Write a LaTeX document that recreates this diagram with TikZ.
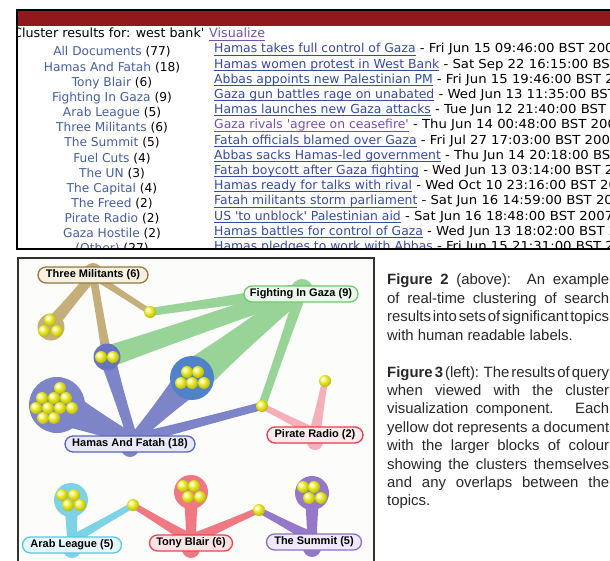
\documentclass[tikz,border=0pt]{standalone}
\usepackage{fontspec}
\usetikzlibrary{calc}
\newfontfamily\verd{DejaVu Sans}
\newfontfamily\arialf{Liberation Sans}
\newcommand\tfont{\verd\fontsize{12.2pt}{14pt}\selectfont}
\newcommand\hfont{\verd\fontsize{12.4pt}{14pt}\selectfont}
\newcommand\ttlfont{\verd\fontsize{12.7pt}{14pt}\selectfont}
\newcommand\lfont{\arialf\bfseries\fontsize{11pt}{13pt}\selectfont}
\newcommand\cfont{\arialf\fontsize{14.9pt}{18pt}\selectfont}
\newcommand\ulk[1]{\setbox0\hbox{#1}\rlap{\rule[-2.3pt]{\wd0}{0.75pt}}\box0}
\newcommand\jline[1]{\makebox[222pt][s]{\spaceskip=1pt plus 1fil\relax #1}}
\definecolor{barred}{RGB}{145,25,30}
\definecolor{listblue}{RGB}{70,95,160}
\definecolor{hlblue}{RGB}{55,75,160}
\definecolor{hlpurple}{RGB}{120,80,170}
\definecolor{panelbg}{RGB}{252,252,250}
\definecolor{framegray}{RGB}{50,50,50}
\definecolor{captext}{RGB}{40,40,40}
\definecolor{ylw}{RGB}{228,228,35}
\definecolor{ylwhi}{RGB}{250,250,170}
\definecolor{ylwmid}{RGB}{190,190,20}
\definecolor{ylwdk}{RGB}{105,105,10}
\pgfdeclareradialshading{ydots}{\pgfpoint{-11bp}{11bp}}{color(0bp)=(white); color(7bp)=(ylwhi); color(16bp)=(ylw); color(27bp)=(ylwmid); color(40bp)=(ylwdk); color(50bp)=(ylwdk)}
\definecolor{fgc}{RGB}{152,212,152}
\definecolor{tmc}{RGB}{196,174,122}
\definecolor{hfc}{RGB}{125,133,200}
\definecolor{hfc2}{RGB}{105,115,195}
\definecolor{fgmix}{RGB}{80,130,200}
\definecolor{prc}{RGB}{245,175,185}
\definecolor{alc}{RGB}{125,210,230}
\definecolor{tbc}{RGB}{240,120,130}
\definecolor{tsc}{RGB}{150,120,200}
\definecolor{tmb}{RGB}{150,120,60}\definecolor{tmf}{RGB}{245,240,225}
\definecolor{fgb}{RGB}{110,200,110}\definecolor{fgf}{RGB}{235,248,235}
\definecolor{hfb}{RGB}{90,100,190}\definecolor{hff}{RGB}{232,232,248}
\definecolor{prb}{RGB}{230,60,70}\definecolor{prf}{RGB}{253,235,238}
\definecolor{alb}{RGB}{90,200,225}\definecolor{alf}{RGB}{230,247,252}
\definecolor{tbb}{RGB}{230,70,80}\definecolor{tbf}{RGB}{252,228,230}
\definecolor{tsb}{RGB}{140,110,190}\definecolor{tsf}{RGB}{238,232,248}
\newcommand\stem[5]{%
  \pgfmathsetmacro\stemc{0.85*(0.7*#4+0.3*#5)}%
  \pgfmathsetmacro\stemd{0.85*(0.3*#4+0.7*#5)}%
  \coordinate (sA) at (#2);
  \coordinate (sB) at (#3);
  \coordinate (sM) at ($(sA)!0.3!(sB)$);
  \coordinate (sN) at ($(sA)!0.7!(sB)$);
  \fill[#1] ($(sA)!#4pt!90:(sB)$) .. controls ($(sM)!\stemc pt!90:(sB)$) and ($(sN)!\stemd pt!90:(sB)$) .. ($(sB)!#5pt!-90:(sA)$)
    -- ($(sB)!#5pt!90:(sA)$) .. controls ($(sN)!\stemd pt!-90:(sB)$) and ($(sM)!\stemc pt!-90:(sB)$) .. ($(sA)!#4pt!-90:(sB)$) -- cycle;
}
\begin{document}
\begin{tikzpicture}[x=1pt,y=-1pt,
  lab/.style n args={2}{rounded corners=8pt, line width=1.3pt, minimum height=16pt,
    inner ysep=0pt, inner xsep=6pt, font=\lfont, text=black, draw=#1, fill=#2},
  ydot/.style={circle, inner sep=0pt, minimum size=12pt, shading=ydots},
  captxt/.style={anchor=base west, inner sep=0pt, font=\cfont, text=captext},
  lst/.style={anchor=base, inner sep=0pt, font=\tfont},
  hdl/.style={anchor=base west, inner sep=0pt, font=\hfont}]
\useasboundingbox (0,0) rectangle (610,561);
\fill[white] (0,0) rectangle (610,561);
% ---------- top panel ----------
\fill[white] (17,10) rectangle (615,249);
\fill[barred] (17,10) rectangle (615,26);
\begin{scope}
\clip (18,26) rectangle (615,248.5);
\node[anchor=base west, inner sep=0pt, font=\ttlfont] (title) at (13,38) {Cluster results for: west bank'};
\node[anchor=base west, inner sep=0pt, font=\ttlfont, text=hlpurple] (vis) at (209,38) {\ulk{Visualize}};
\foreach \nm/\ct [count=\i] in {All Documents/77, Hamas And Fatah/18, Tony Blair/6,
  Fighting In Gaza/9, Arab League/5, Three Militants/6, The Summit/5, Fuel Cuts/4,
  The UN/3, The Capital/4, The Freed/2, Pirate Radio/2, Gaza Hostile/2, {(Other)}/27}
  \node[lst] (l\i) at (112,{56+15.15*(\i-1)}) {\textcolor{listblue}{\nm} (\ct)};
\foreach \hl/\dt/\hc [count=\i] in {
  Hamas takes full control of Gaza/Fri Jun 15 09:46:00 BST 2007/hlblue,
  Hamas women protest in West Bank/Sat Sep 22 16:15:00 BST 2007/hlblue,
  Abbas appoints new Palestinian PM/Fri Jun 15 19:46:00 BST 2007/hlblue,
  Gaza gun battles rage on unabated/Wed Jun 13 11:35:00 BST 2007/hlblue,
  Hamas launches new Gaza attacks/Tue Jun 12 21:40:00 BST 2007/hlblue,
  Gaza rivals 'agree on ceasefire'/Thu Jun 14 00:48:00 BST 2007/hlpurple,
  Fatah officials blamed over Gaza/Fri Jul 27 17:03:00 BST 2007/hlblue,
  Abbas sacks Hamas-led government/Thu Jun 14 20:18:00 BST 2007/hlblue,
  Fatah boycott after Gaza fighting/Wed Jun 13 03:14:00 BST 2007/hlblue,
  Hamas ready for talks with rival/Wed Oct 10 23:16:00 BST 2007/hlblue,
  Fatah militants storm parliament/Sat Jun 16 14:59:00 BST 2007/hlblue,
  US 'to unblock' Palestinian aid/Sat Jun 16 18:48:00 BST 2007/hlblue,
  Hamas battles for control of Gaza/Wed Jun 13 18:02:00 BST 2007/hlblue,
  Hamas pledges to work with Abbas/Fri Jun 15 21:31:00 BST 2007/hlblue}
  \node[hdl] (h\i) at (214,{53+15.2*(\i-1)}) {\textcolor{\hc}{\ulk{\hl}}\scalebox{1.07}[1]{ - \dt}};
\end{scope}
\draw[line width=1.8pt, black] (615,10) -- (17,10) -- (17,249) -- (615,249);
% ---------- bottom panel ----------
\fill[panelbg] (18,258) rectangle (374,570);
\draw[line width=2pt, framegray] (18,570) -- (18,258) -- (374,258) -- (374,570);
% key points
\coordinate (tmr) at (93,275);
\coordinate (fgr) at (302,290);
\coordinate (hfr) at (133,440);
\coordinate (prr) at (315,433);
\coordinate (alr) at (72,540);
\coordinate (tbr) at (191,540);
\coordinate (tsr) at (312,538);
\coordinate (gTM) at (50,326);
\coordinate (dA) at (150,312);
\coordinate (gTwo) at (107,357);
\coordinate (gFive) at (192,378);
\coordinate (gBig) at (57,405);
\coordinate (dB) at (262,406);
\coordinate (dC) at (325,381);
\coordinate (gAL) at (71,500);
\coordinate (dD) at (133,505);
\coordinate (gTB) at (191,492);
\coordinate (dE) at (259,510);
\coordinate (gTS) at (312,493);
% green
\fill[fgc] (fgr) circle (11);
\stem{fgc}{fgr}{dA}{7}{4}
\stem{fgc}{fgr}{gTwo}{8}{11}
\stem{fgc}{fgr}{gFive}{8}{18}
\stem{fgc}{fgr}{dB}{6}{4}
% tan
\fill[tmc] (93,272) circle (9);
\stem{tmc}{tmr}{gTM}{5}{7}
\stem{tmc}{tmr}{dA}{4}{3}
\stem{tmc}{tmr}{gTwo}{4}{5}
\fill[tmc] (51,327) circle (13.5);
% blue
\fill[hfc] (gBig) circle (28);
\stem{hfc}{hfr}{gBig}{6}{20}
\stem{hfc}{hfr}{gTwo}{5}{8}
\stem{hfc}{hfr}{gFive}{5}{16}
\stem{hfc}{hfr}{dB}{6}{4}
\fill[hfc] (130,448) circle (9);
\fill[hfc2] (gTwo) circle (13.5);
\fill[fgmix] (gFive) circle (22);
% pink
\stem{prc}{prr}{dB}{5}{3}
\stem{prc}{prr}{dC}{6}{3}
\fill[prc] (315,442) circle (8);
% cyan
\fill[alc] (gAL) circle (17);
\stem{alc}{alr}{gAL}{5}{8}
\stem{alc}{alr}{dD}{5}{3}
\fill[alc] (72,549) circle (9);
% red
\fill[tbc] (gTB) circle (17);
\stem{tbc}{tbr}{dD}{6}{3}
\stem{tbc}{tbr}{gTB}{5}{8}
\stem{tbc}{tbr}{dE}{6}{3}
\fill[tbc] (191,549) circle (9);
% purple
\fill[tsc] (gTS) circle (17);
\stem{tsc}{tsr}{dE}{6}{3}
\stem{tsc}{tsr}{gTS}{5}{8}
\fill[tsc] (312,548) circle (9);
% labels
\node[lab={tmb}{tmf}, minimum width=110pt] (tm) at (93,275) {Three Militants (6)};
\node[lab={fgb}{fgf}, minimum width=114pt] (fg) at (301,294) {Fighting In Gaza (9)};
\node[lab={hfb}{hff}, minimum width=130pt] (hf) at (130,444) {Hamas And Fatah (18)};
\node[lab={prb}{prf}, minimum width=96pt] (pr) at (315,435) {Pirate Radio (2)};
\node[lab={alb}{alf}, minimum width=99pt] (al) at (72,545) {Arab League (5)};
\node[lab={tbb}{tbf}, minimum width=83pt] (tb) at (191,543) {Tony Blair (6)};
\node[lab={tsb}{tsf}, minimum width=95pt] (ts) at (314,542) {The Summit (5)};
% documents
\foreach \p [count=\i] in {(50,320),(44,331),(57,331),(150,312),(101,357),(113,357),
  (187,372),(198,372),(181,383),(192,383),(204,383),
  (60,388),(42,398),(54,398),(66,398),(36,408),(48,408),(60,408),(72,408),(43,418),(54,418),
  (262,406),(325,381),(62,495),(74,495),(68,505),(80,505),(133,505),
  (183,486),(194,486),(188,497),(200,497),(259,510),
  (303,487),(314,487),(309,498),(321,498)}
  \node[ydot] (y\i) at \p {};
% ---------- caption ----------
\node[captxt] (c1) at (387,284.5) {\jline{\textbf{Figure 2} (above): An example}};
\node[captxt] (c2) at (387,303) {\jline{of real-time clustering of search}};
\node[captxt] (c3) at (387,321.5) {\jline{results into sets of significant topics}};
\node[captxt] (c4) at (387,340) {with human readable labels.};
\node[captxt] (c5) at (387,377) {\jline{\textbf{Figure 3} (left): The results of query}};
\node[captxt] (c6) at (387,395.4) {\jline{when viewed with the cluster}};
\node[captxt] (c7) at (387,413.8) {\jline{visualization component. Each}};
\node[captxt] (c8) at (387,432.2) {\jline{yellow dot represents a document}};
\node[captxt] (c9) at (387,450.6) {\jline{with the larger blocks of colour}};
\node[captxt] (c10) at (387,469) {\jline{showing the clusters themselves}};
\node[captxt] (c11) at (387,487.4) {\jline{and any overlaps between the}};
\node[captxt] (c12) at (387,505.8) {topics.};
\end{tikzpicture}
\end{document}
